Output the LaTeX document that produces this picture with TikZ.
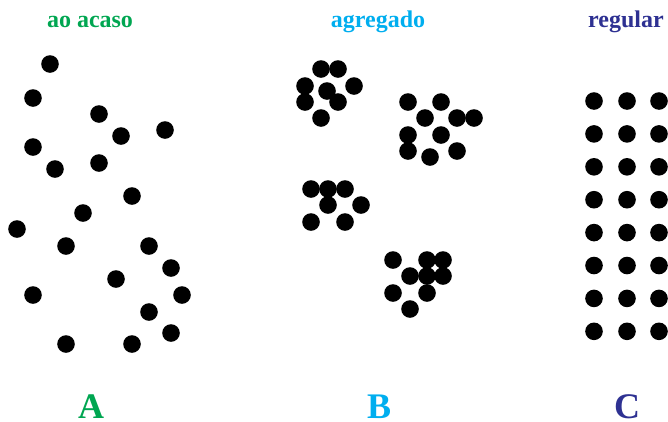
\documentclass[tikz,border=0pt]{standalone}
\usepackage{fontspec}
\setmainfont{Liberation Serif}
\definecolor{cgreen}{RGB}{0,166,81}
\definecolor{ccyan}{RGB}{0,174,239}
\definecolor{cblue}{RGB}{46,49,146}
\tikzset{
  dot/.style={circle,fill=black,inner sep=0pt,minimum size=17.6pt},
  ttl/.style={anchor=base,font=\fontsize{24}{28}\selectfont\bfseries},
  lbl/.style={anchor=base,inner sep=0pt,font=\fontsize{36}{40}\selectfont\bfseries}
}
\begin{document}
\begin{tikzpicture}[x=1pt,y=-1pt]
\useasboundingbox (0,0) rectangle (668,421);
% titles
\node[ttl,text=cgreen] (tA) at (90,27) {ao acaso};
\node[ttl,text=ccyan] (tB) at (378,27) {agregado};
\node[ttl,text=cblue] (tC) at (626,27) {regular};
\node[lbl,text=cgreen] (lA) at (91,418) {A};
\node[lbl,text=ccyan] (lB) at (379,418) {B};
\node[lbl,text=cblue] (lC) at (627,418) {C};
% A: random
\foreach \x/\y [count=\i] in {50/64,33/98,99/114,121/136,165/130,33/147,55/169,99/163,132/196,83/213,17/229,66/246,149/246,171/268,116/279,33/295,182/295,149/312,171/333,66/344,132/344}
  \node[dot] (a\i) at (\x,\y) {};
% B: aggregated
\foreach \x/\y [count=\i] in {321/69,338/69,305/86,327/91,354/86,305/102,338/102,321/118,
  408/102,441/102,425/118,457/118,474/118,408/135,441/135,408/151,430/157,457/151,
  311/189,328/189,345/189,328/205,361/205,311/222,345/222,
  393/260,427/260,443/260,410/276,427/276,443/276,393/293,427/293,410/309}
  \node[dot] (b\i) at (\x,\y) {};
% C: regular
\foreach \r in {0,...,7}
  \foreach \c/\x in {1/594,2/627,3/659}
    \node[dot] (c\r-\c) at (\x,{101+32.9*\r}) {};
\end{tikzpicture}
\end{document}
